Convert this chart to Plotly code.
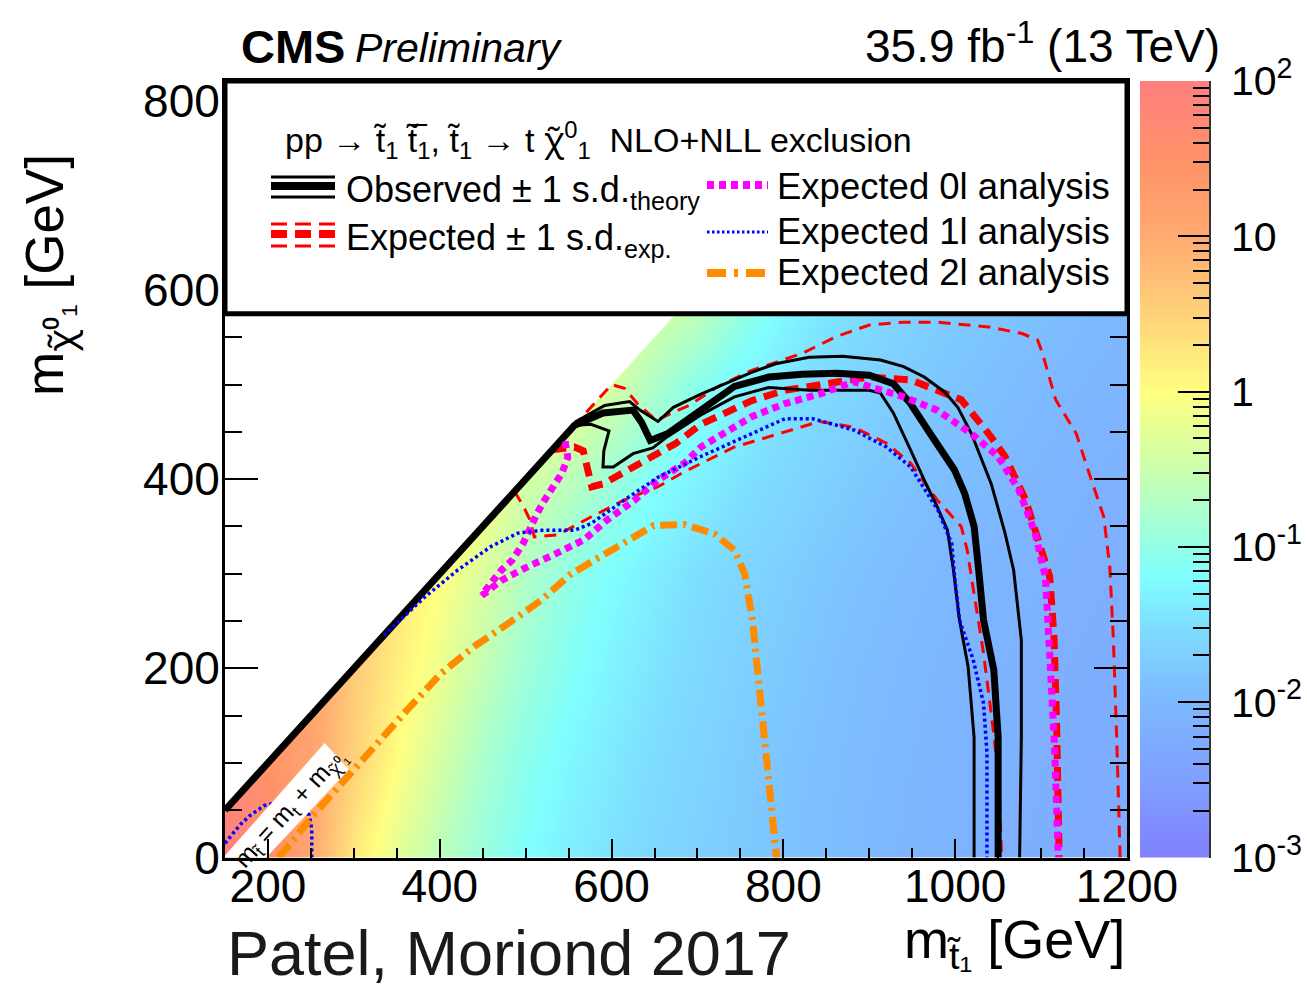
import numpy as np
import plotly.graph_objects as go

W, H = 1307, 992
FONT = "Liberation Sans, Arial, Helvetica, sans-serif"
GREEK = "Noto Sans, DejaVu Sans, sans-serif"

# ---------------------------------------------------------------------------
# 95% CL upper limit on the cross section (pb) on the (m_stop, m_LSP) grid
# ---------------------------------------------------------------------------
mstop_grid = [150, 200, 250, 300, 350, 400, 450, 500, 550, 600, 650,
              700, 750, 800, 850, 900, 950, 1000, 1050, 1100, 1150, 1200]
mlsp_grid = [0, 100, 200, 300, 400, 500, 600]
xsec_ul = [
    [100, 40, 11, 1.7, 0.55, 0.23, 0.115, 0.066, 0.045, 0.034, 0.026, 0.021,
     0.0174, 0.0145, 0.012, 0.0102, 0.0089, 0.0079, 0.0071, 0.0065, 0.0059, 0.0055],
    [60, 30, 12.6, 3.2, 1.0, 0.38, 0.165, 0.087, 0.055, 0.04, 0.03, 0.0234,
     0.0186, 0.015, 0.0126, 0.0107, 0.0093, 0.0083, 0.0074, 0.0068, 0.0062, 0.0058],
    [30, 30, 15, 4.0, 1.5, 0.68, 0.27, 0.13, 0.076, 0.05, 0.036, 0.0275,
     0.021, 0.017, 0.0138, 0.0115, 0.01, 0.0087, 0.0078, 0.0071, 0.0065, 0.006],
    [30, 30, 15, 8.0, 2.0, 1.0, 0.45, 0.19, 0.1, 0.063, 0.044, 0.032,
     0.025, 0.02, 0.0158, 0.0132, 0.0112, 0.0098, 0.0087, 0.0078, 0.0071, 0.0066],
    [30, 30, 15, 8.0, 4.0, 2.0, 1.0, 0.4, 0.25, 0.126, 0.071, 0.05,
     0.035, 0.027, 0.021, 0.0166, 0.0138, 0.0117, 0.0102, 0.0089, 0.0079, 0.0072],
    [30, 30, 15, 8.0, 4.0, 2.0, 1.5, 1.2, 0.8, 0.4, 0.18, 0.089,
     0.052, 0.038, 0.028, 0.022, 0.0178, 0.0148, 0.0126, 0.0107, 0.0093, 0.0083],
    [30, 30, 15, 8.0, 4.0, 2.0, 1.5, 1.2, 1.0, 0.8, 0.5, 0.35,
     0.14, 0.063, 0.04, 0.03, 0.0234, 0.019, 0.0158, 0.0132, 0.0112, 0.01],
]

# smallest mass splitting covered by the scan (GeV) and the top mass line
DM_MIN = 100
M_TOP = 173

# ---------------------------------------------------------------------------
# Exclusion contours (m_stop, m_LSP) in GeV
# ---------------------------------------------------------------------------
obs_x = [150, 557, 590, 625, 635, 645, 665, 704, 743, 783, 822, 862, 900, 928,
         948, 971, 999, 1011, 1022, 1027, 1033, 1045, 1050, 1050]
obs_y = [50, 457, 470, 473, 460, 441, 448, 473, 498, 508, 511, 512, 510, 501,
         480, 448, 410, 385, 350, 307, 251, 198, 127, 0]

obs_up_x = [557, 592, 621, 633, 654, 672, 704, 763, 791, 830, 869, 913, 940,
            964, 988, 1003, 1019, 1042, 1058, 1068, 1077, 1077, 1075]
obs_up_y = [460, 478, 482, 473, 461, 476, 490, 513, 522, 529, 530, 526, 519,
            508, 492, 476, 448, 395, 343, 304, 230, 127, 0]

obs_dn_x = [560, 576, 597, 591, 590, 602, 625, 648, 665, 704, 743, 783, 830,
            900, 913, 928, 948, 964, 979, 991, 998, 1005, 1015, 1022, 1022]
obs_dn_y = [457, 458, 451, 430, 413, 413, 427, 433, 445, 468, 487, 497, 494,
            494, 491, 470, 431, 399, 371, 346, 304, 251, 202, 127, 0]

exp_x = [531, 557, 567, 572, 577, 590, 615, 654, 675, 704, 763, 802, 862, 900,
         948, 979, 1007, 1039, 1058, 1082, 1097, 1110, 1112, 1115, 1118, 1121]
exp_y = [431, 434, 430, 410, 392, 395, 408, 427, 438, 458, 483, 494, 503, 508,
         505, 494, 484, 448, 424, 378, 336, 297, 272, 233, 145, 0]

exp_up_x = [555, 600, 615, 630, 652, 670, 690, 724, 763, 822, 862, 900, 940,
            979, 1039, 1078, 1096, 1101, 1117, 1141, 1156, 1173, 1180, 1184,
            1188, 1192]
exp_up_y = [455, 500, 496, 480, 462, 470, 478, 498, 515, 533, 551, 563, 566,
            566, 561, 554, 547, 535, 484, 448, 406, 360, 307, 233, 127, 0]

exp_dn_x = [487, 497, 505, 510, 537, 576, 615, 654, 685, 743, 802, 842, 882,
            920, 948, 979, 1007, 1014, 1020, 1033, 1045, 1051, 1054]
exp_dn_y = [387, 372, 357, 339, 341, 360, 378, 392, 408, 434, 450, 461, 455,
            438, 417, 378, 350, 325, 290, 216, 130, 79, 0]

exp0l_x = [546, 549, 542, 531, 522, 514, 505, 497, 484, 472, 456, 449, 472,
           499, 537, 568, 595, 627, 654, 685, 704, 763, 802, 842, 882, 940,
           979, 1019, 1050, 1074, 1093, 1105, 1110, 1116, 1120]
exp0l_y = [440, 423, 406, 392, 378, 365, 346, 332, 314, 304, 286, 277, 293,
           306, 322, 336, 357, 378, 399, 417, 434, 466, 480, 490, 503, 487,
           473, 448, 424, 389, 343, 297, 216, 110, 0]

exp1l_x = [335, 382, 421, 460, 491, 519, 557, 576, 615, 654, 704, 763, 802,
           834, 882, 920, 948, 980, 996, 999, 1005, 1021, 1033, 1037, 1037]
exp1l_y = [235, 275, 304, 329, 343, 346, 346, 353, 378, 402, 424, 448, 464,
           464, 452, 434, 413, 367, 332, 300, 251, 209, 163, 110, 0]

exp1l_low_x = [251, 251, 248, 232, 210, 196, 180, 168, 158, 150]
exp1l_low_y = [0, 30, 45, 57, 58, 55, 45, 35, 24, 15]

exp2l_x = [212, 223, 251, 286, 324, 362, 402, 440, 479, 518, 553, 607, 649,
           685, 720, 743, 755, 764, 772, 780, 787, 792]
exp2l_y = [0, 11, 43, 79, 117, 156, 195, 223, 247, 272, 300, 329, 351, 352,
           342, 325, 300, 251, 180, 106, 57, 0]

# ---------------------------------------------------------------------------
# Palette: colour at given cross-section values (pb), log scale 1e-3 .. 1e2
# ---------------------------------------------------------------------------
palette_xsec = [0.001, 0.003, 0.01, 0.03, 0.065, 0.1, 0.3, 1, 3, 10, 30, 100]
palette_color = ["#8080FF", "#7F9EFF", "#7DB8FF", "#7EDCFF", "#80FFFF", "#92FFE6",
                 "#C8FFB0", "#FFFF80", "#FFD47A", "#FFAA70", "#FF9268", "#FF8080"]
ZMIN, ZMAX = -3, 2
colorscale = [[(np.log10(v) - ZMIN) / (ZMAX - ZMIN), c]
              for v, c in zip(palette_xsec, palette_color)]
colorscale[0][0] = 0.0
colorscale[-1][0] = 1.0

cbar_major = [-3, -2, -1, 0, 1, 2]
cbar_labels = ["10<sup>-3</sup>", "10<sup>-2</sup>", "10<sup>-1</sup>", "1", "10",
               "10<sup>2</sup>"]
cbar_minor = [float(np.log10(k * 10.0 ** n)) for n in range(-3, 2) for k in range(2, 10)]


def px_x(px):
    return px / W


def px_y(py):
    return 1 - py / H


CHI = f'<span style="font-family:{GREEK}">χ\u0303</span>'

fig = go.Figure()

fig.add_trace(go.Heatmap(
    x=mstop_grid, y=mlsp_grid, z=np.log10(np.array(xsec_ul)),
    zmin=ZMIN, zmax=ZMAX, zsmooth="best", colorscale=colorscale,
    showscale=False, hoverinfo="skip"))

# blank out the region below the smallest scanned mass splitting
x_lo, x_hi = mstop_grid[0], 700
fig.add_trace(go.Scatter(
    x=[x_lo, x_hi, x_lo, x_lo], y=[x_lo - DM_MIN, x_hi - DM_MIN, x_hi - DM_MIN, x_lo - DM_MIN],
    fill="toself", fillcolor="white", mode="none", hoverinfo="skip", showlegend=False))


def add_line(x, y, color, width, dash="solid"):
    fig.add_trace(go.Scatter(x=x, y=y, mode="lines",
                             line=dict(color=color, width=width, dash=dash),
                             hoverinfo="skip", showlegend=False))


RED, BLACK, MAGENTA, BLUE, ORANGE = "#FF0000", "#000000", "#FF00FF", "#0000FF", "#FF8C00"

add_line(exp_dn_x, exp_dn_y, RED, 3, "12px,8px")
add_line(exp_up_x, exp_up_y, RED, 3, "12px,8px")
add_line(exp_x, exp_y, RED, 7, "14px,8px")
add_line(obs_dn_x, obs_dn_y, BLACK, 3)
add_line(obs_up_x, obs_up_y, BLACK, 3)
add_line(obs_x, obs_y, BLACK, 7)
add_line(exp0l_x, exp0l_y, MAGENTA, 7, "7px,5px")
add_line(exp1l_x, exp1l_y, BLUE, 3.5, "3px,3px")
add_line(exp1l_low_x, exp1l_low_y, BLUE, 3.5, "3px,3px")
add_line(exp2l_x, exp2l_y, ORANGE, 7, "17px,6px,3px,6px")

# white label strip along m_stop = m_top + m_LSP
hw = 25
x_end = 280
band_x = [M_TOP - hw, M_TOP + hw, x_end + 14, x_end - 14, M_TOP - hw]
band_y = [0, 0, x_end - M_TOP - 14, x_end - M_TOP + 14, 0]
fig.add_trace(go.Scatter(x=band_x, y=band_y, fill="toself", fillcolor="white",
                         mode="none", hoverinfo="skip", showlegend=False))

# colour scale drawn as its own strip
fig.add_trace(go.Heatmap(
    x=[0, 1], y=[ZMIN, ZMAX], z=[[ZMIN, ZMIN], [ZMAX, ZMAX]],
    zmin=ZMIN, zmax=ZMAX, zsmooth="best", colorscale=colorscale,
    showscale=False, hoverinfo="skip", xaxis="x2", yaxis="y2"))

Y_TOP = 821
ydom = [px_y(857.5), px_y(81)]

fig.update_layout(
    width=W, height=H, margin=dict(l=0, r=0, t=0, b=0, autoexpand=False),
    paper_bgcolor="white", plot_bgcolor="white", showlegend=False,
    xaxis=dict(domain=[px_x(225), px_x(1127)], range=[150, 1200],
               tickmode="linear", tick0=0, dtick=200,
               ticks="inside", ticklen=19, tickwidth=2, tickcolor="black",
               minor=dict(tickmode="linear", tick0=0, dtick=50, ticks="inside",
                          ticklen=10, tickwidth=2, tickcolor="black"),
               showline=True, linecolor="black", linewidth=3, mirror="ticks",
               showgrid=False, zeroline=False, ticklabelstandoff=-14, automargin=False,
               tickfont=dict(family=FONT, size=46, color="black"), anchor="y"),
    yaxis=dict(domain=ydom, range=[0, Y_TOP],
               tickmode="linear", tick0=0, dtick=200,
               ticks="inside", ticklen=33, tickwidth=2, tickcolor="black",
               minor=dict(tickmode="linear", tick0=0, dtick=50, ticks="inside",
                          ticklen=17, tickwidth=2, tickcolor="black"),
               showline=True, linecolor="black", linewidth=3, mirror="ticks",
               showgrid=False, zeroline=False, ticklabelstandoff=-7, automargin=False,
               tickfont=dict(family=FONT, size=46, color="black"), anchor="x"),
    xaxis2=dict(domain=[px_x(1140), px_x(1209)], range=[0, 1], visible=False,
                anchor="y2", automargin=False),
    yaxis2=dict(domain=ydom, range=[ZMIN, ZMAX], anchor="x2", side="right",
                tickmode="array", tickvals=cbar_major, ticktext=cbar_labels,
                ticks="inside", ticklen=31, tickwidth=1.5, tickcolor="black",
                minor=dict(tickmode="array", tickvals=cbar_minor, ticks="inside",
                           ticklen=16, tickwidth=1.5, tickcolor="black"),
                showline=True, linecolor="#333333", linewidth=1.5, automargin=False,
                showgrid=False, zeroline=False, ticklabelstandoff=12,
                tickfont=dict(family=FONT, size=41, color="black")),
)

# legend box
shapes = [dict(type="rect", xref="x", yref="y", x0=150, x1=1200, y0=575, y1=Y_TOP,
               fillcolor="white", line=dict(color="black", width=5), layer="above")]


def sample(px0, px1, py, color, width, dash="solid"):
    return dict(type="line", xref="paper", yref="paper",
                x0=px_x(px0), x1=px_x(px1), y0=px_y(py), y1=px_y(py),
                line=dict(color=color, width=width, dash=dash), layer="above")


shapes += [
    sample(271, 335, 177, BLACK, 3),
    sample(271, 335, 186, BLACK, 8),
    sample(271, 335, 197, BLACK, 3),
    sample(271, 335, 224, RED, 3, "16px,8px"),
    sample(271, 335, 234, RED, 8, "16px,8px"),
    sample(271, 335, 246, RED, 3, "16px,8px"),
    sample(707, 768, 185, MAGENTA, 8, "7px,5px"),
    sample(707, 768, 232, BLUE, 3, "2.5px,2.5px"),
    sample(707, 768, 273, ORANGE, 8, "19px,8px,4px,8px"),
]
fig.update_layout(shapes=shapes)


def text(px, py, s, size, anchor="left", color="black", angle=0):
    fig.add_annotation(x=px_x(px), y=px_y(py), xref="paper", yref="paper",
                       text=s, showarrow=False, xanchor=anchor, yanchor="middle",
                       textangle=angle,
                       font=dict(family=FONT, size=size, color=color))


text(239, 46, "<b>CMS</b>", 47)
text(353, 48, "<i>Preliminary</i>", 41)
text(1222, 43, "35.9 fb<sup>-1</sup> (13 TeV)", 46, anchor="right")

text(283, 140, "pp → t\u0303<sub>1</sub> t\u0303\u0305<sub>1</sub>, t\u0303<sub>1</sub> → t "
     + CHI + "<sup>0</sup><sub>1</sub>  NLO+NLL exclusion", 34)
text(344, 192, "Observed ± 1 s.d.<sub>theory</sub>", 36)
text(344, 240, "Expected ± 1 s.d.<sub>exp.</sub>", 36)
text(775, 186, "Expected 0l analysis", 36.5)
text(775, 231, "Expected 1l analysis", 36.5)
text(775, 273, "Expected 2l analysis", 36.5)

text(1127, 943, "m<sub>t\u0303₁</sub> [GeV]", 54, anchor="right")
text(50, 275, "m<sub>" + CHI + "⁰₁</sub> [GeV]", 53, anchor="center", angle=-90)
text(225, 953, "Patel, Moriond 2017", 63, color="#1a1a1a")

fig.add_annotation(x=227, y=52, xref="x", yref="y", showarrow=False,
                   text="m<sub>t\u0303</sub> = m<sub>t</sub> + m<sub>" + CHI + "⁰₁</sub>",
                   textangle=-47.8, font=dict(family=FONT, size=25, color="black"))

fig.write_html("out.html")
